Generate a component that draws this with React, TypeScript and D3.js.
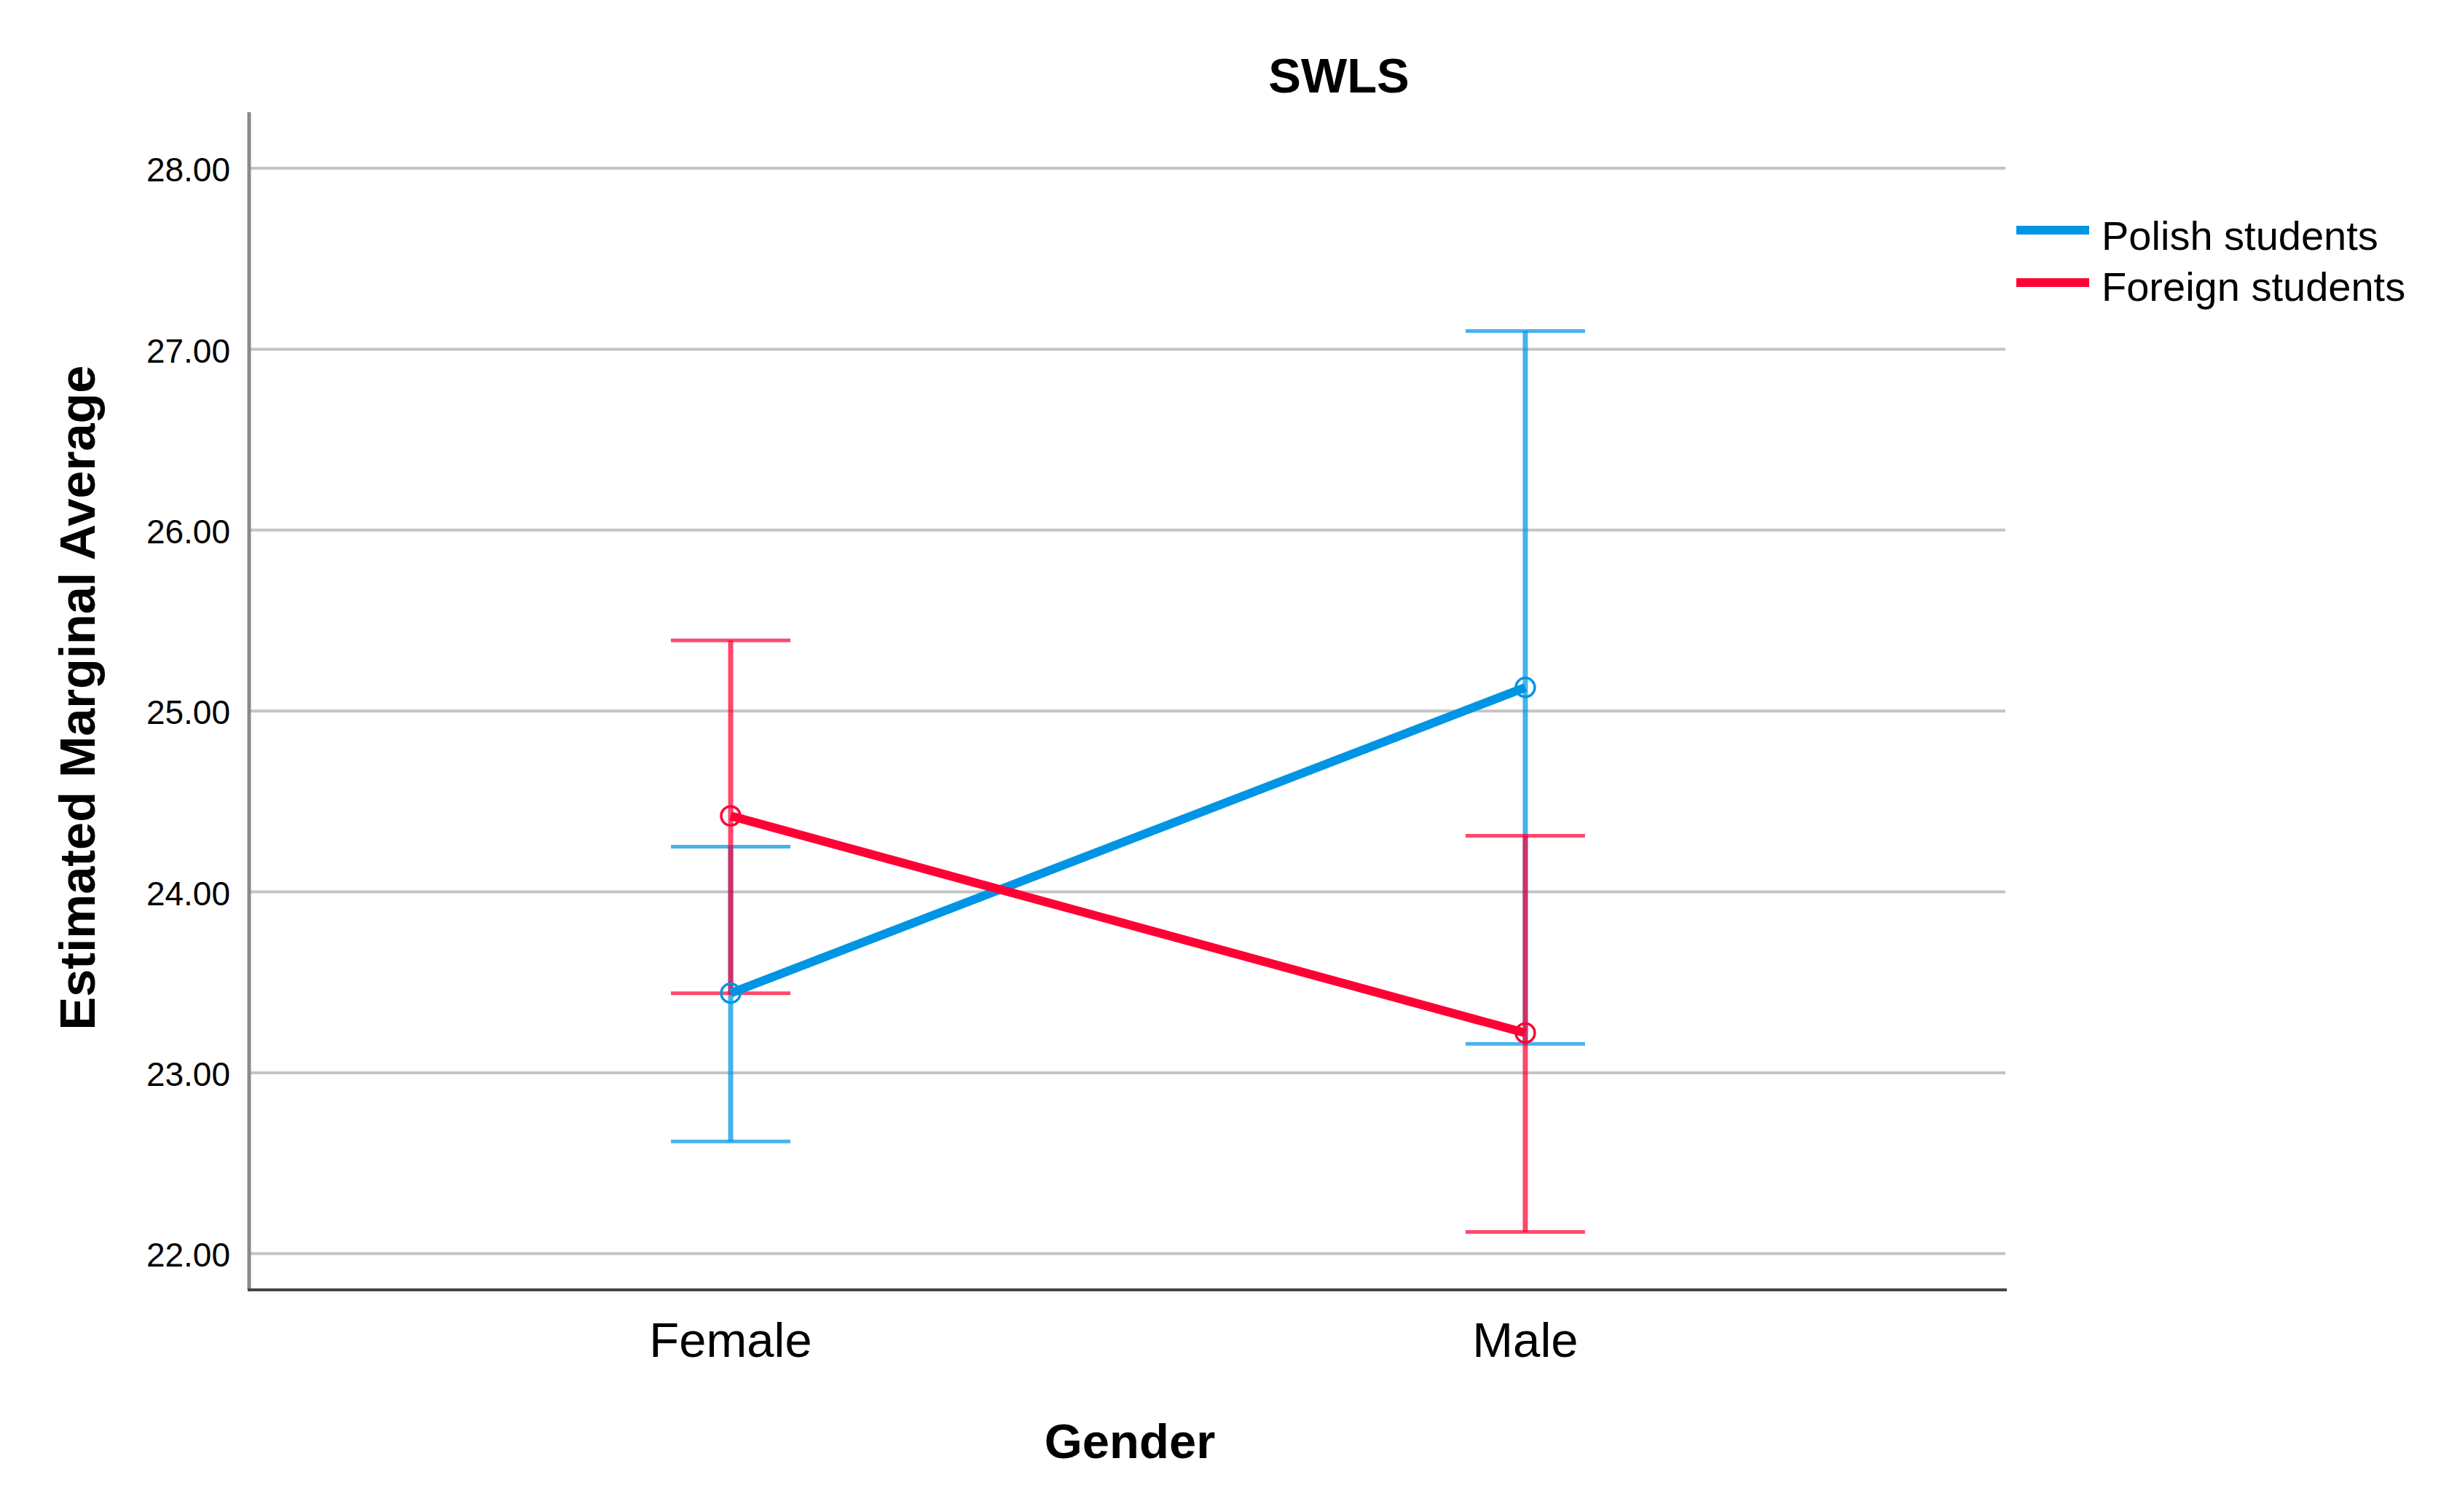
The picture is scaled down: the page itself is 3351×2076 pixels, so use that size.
import React from "react";
import * as d3 from "d3";

const categories = ["Female", "Male"];
const seriesNames = ["Polish students", "Foreign students"];
const polishMeans = [23.44, 25.13];
const polishLower = [22.62, 23.16];
const polishUpper = [24.25, 27.10];
const foreignMeans = [24.42, 23.22];
const foreignLower = [23.44, 22.12];
const foreignUpper = [25.39, 24.31];
const yTicks = [22, 23, 24, 25, 26, 27, 28];
const colors = ["#0095e4", "#ff0035"];

const W = 3351;
const H = 2076;
const left = 342;
const right = 2755;
const top = 154;
const bottom = 1771;
const FONT = "'Liberation Sans', Arial, sans-serif";

export default function App() {
  const x = d3.scalePoint<string>().domain(categories).range([left, right]).padding(0.606);
  const y = d3.scaleLinear().domain([21.8, 28.31]).range([bottom, top]);

  const series = [
    { name: seriesNames[0], means: polishMeans, lo: polishLower, hi: polishUpper, color: colors[0] },
    { name: seriesNames[1], means: foreignMeans, lo: foreignLower, hi: foreignUpper, color: colors[1] },
  ];

  const line = d3
    .line<number>()
    .x((_, i) => x(categories[i]) as number)
    .y((d) => y(d));

  const capHalf = 82;

  return (
    <svg
      width={W}
      height={H}
      style={{ position: "absolute", left: 0, top: 0, background: "#fff" }}
      fontFamily={FONT}
    >
      <rect x={0} y={0} width={W} height={H} fill="#fff" />
      {/* gridlines */}
      {yTicks.map((t) => (
        <line key={"g" + t} x1={left} x2={right - 2} y1={y(t)} y2={y(t)} stroke="#c4c4c4" strokeWidth={4} />
      ))}
      {/* y tick labels */}
      {yTicks.map((t) => (
        <text
          key={"t" + t}
          x={316}
          y={y(t) + 6}
          textAnchor="end"
          dominantBaseline="middle"
          fontSize={46}
          fill="#000"
        >
          {d3.format(".2f")(t)}
        </text>
      ))}
      {/* axes */}
      <line x1={left} x2={left} y1={top} y2={bottom} stroke="#8a8a8a" strokeWidth={5} />
      <line x1={left - 2} x2={right} y1={bottom} y2={bottom} stroke="#444" strokeWidth={4} />

      {/* error bars */}
      {series.map((s) =>
        categories.map((c, i) => {
          const cx = x(c) as number;
          return (
            <g key={s.name + c + "eb"} stroke={s.color} strokeOpacity={0.72}>
              <line x1={cx} x2={cx} y1={y(s.lo[i])} y2={y(s.hi[i])} strokeWidth={7} />
              <line x1={cx - capHalf} x2={cx + capHalf} y1={y(s.lo[i])} y2={y(s.lo[i])} strokeWidth={5} />
              <line x1={cx - capHalf} x2={cx + capHalf} y1={y(s.hi[i])} y2={y(s.hi[i])} strokeWidth={5} />
            </g>
          );
        })
      )}

      {/* lines */}
      {series.map((s) => (
        <path key={s.name + "l"} d={line(s.means) || ""} fill="none" stroke={s.color} strokeWidth={12} />
      ))}
      {/* markers */}
      {series.map((s) =>
        s.means.map((m, i) => (
          <circle
            key={s.name + i + "m"}
            cx={x(categories[i]) as number}
            cy={y(m)}
            r={13}
            fill="none"
            stroke={s.color}
            strokeWidth={3.5}
          />
        ))
      )}

      {/* x category labels */}
      {categories.map((c) => (
        <text key={"c" + c} x={x(c) as number} y={1863} textAnchor="middle" fontSize={67} fill="#000">
          {c}
        </text>
      ))}

      {/* title */}
      <text x={1838} y={127} textAnchor="middle" fontSize={67} fontWeight="bold" fill="#000">
        SWLS
      </text>
      {/* axis titles */}
      <text x={1551} y={2002} textAnchor="middle" fontSize={67} fontWeight="bold" fill="#000">
        Gender
      </text>
      <text
        transform={`translate(130, 958) rotate(-90)`}
        textAnchor="middle"
        fontSize={68}
        fontWeight="bold"
        fill="#000"
        textLength={913}
        lengthAdjust="spacingAndGlyphs"
      >
        Estimated Marginal Average
      </text>

      {/* legend */}
      {series.map((s, i) => (
        <g key={s.name + "lg"}>
          <line x1={2768} x2={2868} y1={316 + i * 72} y2={316 + i * 72} stroke={s.color} strokeWidth={12} />
          <text x={2885} y={343 + i * 70} fontSize={56} fill="#000">
            {s.name}
          </text>
        </g>
      ))}
    </svg>
  );
}
